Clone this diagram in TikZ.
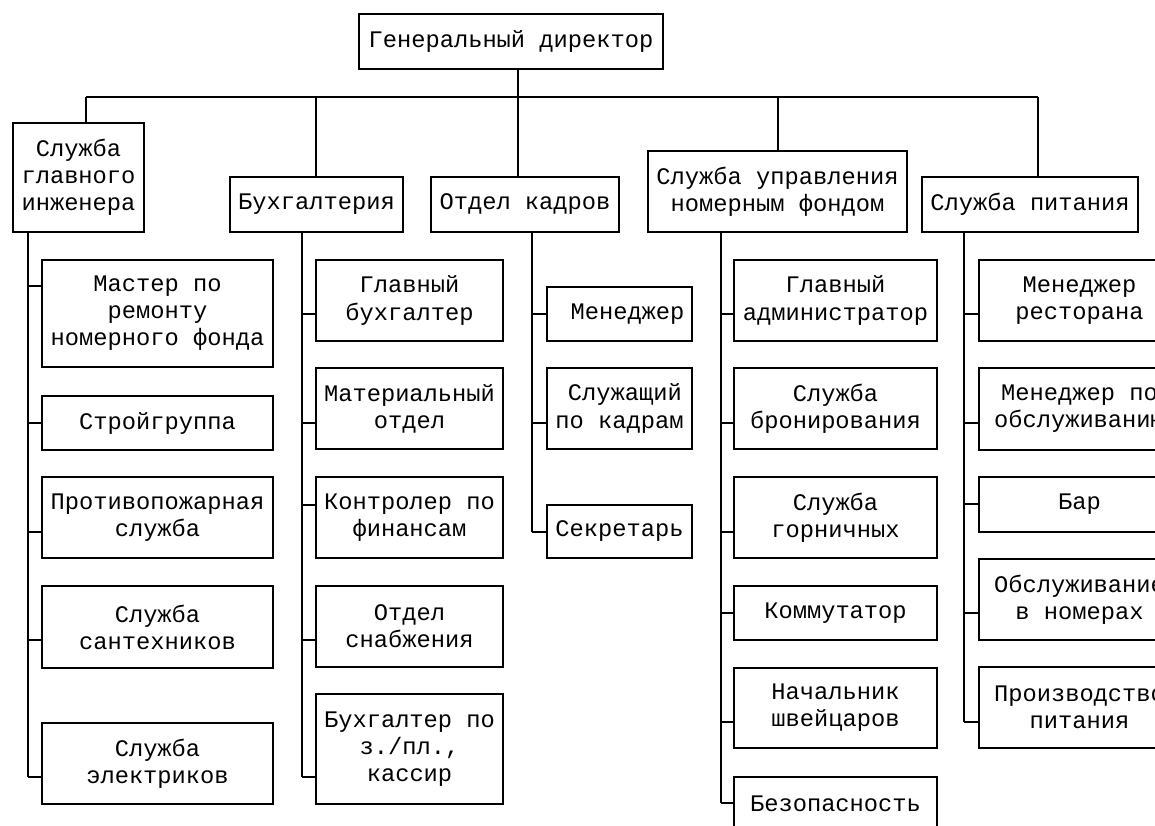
\documentclass[tikz,border=0pt]{standalone}
\usepackage{fontspec}
\setmainfont{Liberation Mono}
\tikzset{
  box/.style={draw, line width=1.3pt, inner sep=0pt, align=center,
    font=\fontsize{17.8pt}{20.3pt}\selectfont},
  ln/.style={line width=1.3pt}
}
\newcommand\bx[6]{\node[box, minimum width={(#4-#2)*0.75pt}, minimum height={(#5-#3)*0.75pt}] (#1) at ({(#2+#4)/2},{(#3+#5)/2}) {#6};}
\newcommand\cn[3]{\coordinate (tmp) at (#2,#3); \draw[ln] (tmp) -- (tmp -| #1.west);}
\begin{document}
\begin{tikzpicture}[x=0.75pt,y=-0.75pt]
\useasboundingbox (0,0) rectangle (1155,825);
\fill[white] (0,0) rectangle (1155,825);
\clip (0,0) rectangle (1155,825);
% top
\bx{gd}{359}{14}{663}{69}{Генеральный директор}
% level 1
\bx{s1}{13}{123}{144}{232}{Служба\\главного\\инженера}
\bx{s2}{230}{177}{403}{232}{Бухгалтерия}
\bx{s3}{431}{177}{619}{232}{Отдел кадров}
\bx{s4}{648}{151}{907}{232}{Служба управления\\номерным фондом}
\bx{s5}{922}{177}{1138}{232}{Служба питания}
% bus
\coordinate (b1) at (86,97);
\coordinate (b2) at (316,97);
\coordinate (b3) at (518,97);
\coordinate (b4) at (778,97);
\coordinate (b5) at (1038,97);
\draw[ln] (b1) -- (b5);
\draw[ln] (b3 |- gd.south) -- (b3);
\draw[ln] (b1) -- (b1 |- s1.north);
\draw[ln] (b2) -- (b2 |- s2.north);
\draw[ln] (b3) -- (b3 |- s3.north);
\draw[ln] (b4) -- (b4 |- s4.north);
\draw[ln] (b5) -- (b5 |- s5.north);
% column 1
\bx{c11}{42}{260}{273}{367}{Мастер по\\ремонту\\номерного фонда}
\bx{c12}{42}{396}{273}{450}{Стройгруппа}
\bx{c13}{42}{477}{273}{558}{Противопожарная\\служба}
\bx{c14}{42}{586}{273}{668}{Служба\\сантехников}
\bx{c15}{42}{723}{273}{804}{Служба\\электриков}
\coordinate (t1) at (28,777);
\draw[ln] (t1 |- s1.south) -- (t1);
\cn{c11}{28}{286}\cn{c12}{28}{423}\cn{c13}{28}{532}\cn{c14}{28}{640}\cn{c15}{28}{777}
% column 2
\bx{c21}{316}{260}{503}{341}{Главный\\бухгалтер}
\bx{c22}{316}{368}{503}{449}{Материальный\\отдел}
\bx{c23}{316}{477}{503}{558}{Контролер по\\финансам}
\bx{c24}{316}{586}{503}{667}{Отдел\\снабжения}
\bx{c25}{316}{694}{503}{804}{Бухгалтер по\\з./пл.,\\кассир}
\coordinate (t2) at (302,777);
\draw[ln] (t2 |- s2.south) -- (t2);
\cn{c21}{302}{314}\cn{c22}{302}{423}\cn{c23}{302}{505}\cn{c24}{302}{640}\cn{c25}{302}{777}
% column 3
\bx{c31}{547}{287}{692}{341}{\hspace*{12pt}Менеджер}
\bx{c32}{547}{368}{692}{449}{\hspace*{8pt}Служащий\\по кадрам}
\bx{c33}{547}{505}{692}{558}{Секретарь}
\coordinate (t3) at (532,532);
\draw[ln] (t3 |- s3.south) -- (t3);
\cn{c31}{532}{314}\cn{c32}{532}{423}\cn{c33}{532}{532}
% column 4
\bx{c41}{734}{260}{937}{341}{Главный\\администратор}
\bx{c42}{734}{368}{937}{449}{Служба\\бронирования}
\bx{c43}{734}{477}{937}{558}{Служба\\горничных}
\bx{c44}{734}{586}{937}{640}{Коммутатор}
\bx{c45}{734}{668}{937}{748}{Начальник\\швейцаров}
\bx{c46}{734}{777}{937}{831}{Безопасность}
\coordinate (t4) at (721,803);
\draw[ln] (t4 |- s4.south) -- (t4);
\cn{c41}{721}{314}\cn{c42}{721}{423}\cn{c43}{721}{532}\cn{c44}{721}{613}\cn{c45}{721}{722}\cn{c46}{721}{803}
% column 5
\bx{c51}{979}{260}{1180}{341}{Менеджер\\ресторана}
\bx{c52}{979}{368}{1180}{450}{Менеджер по\\обслуживанию}
\bx{c53}{979}{477}{1180}{532}{Бар}
\bx{c54}{979}{559}{1180}{640}{Обслуживание\\в номерах}
\bx{c55}{979}{667}{1180}{748}{Производство\\питания}
\coordinate (t5) at (964,722);
\draw[ln] (t5 |- s5.south) -- (t5);
\cn{c51}{964}{314}\cn{c52}{964}{423}\cn{c53}{964}{504}\cn{c54}{964}{613}\cn{c55}{964}{722}
\end{tikzpicture}
\end{document}
